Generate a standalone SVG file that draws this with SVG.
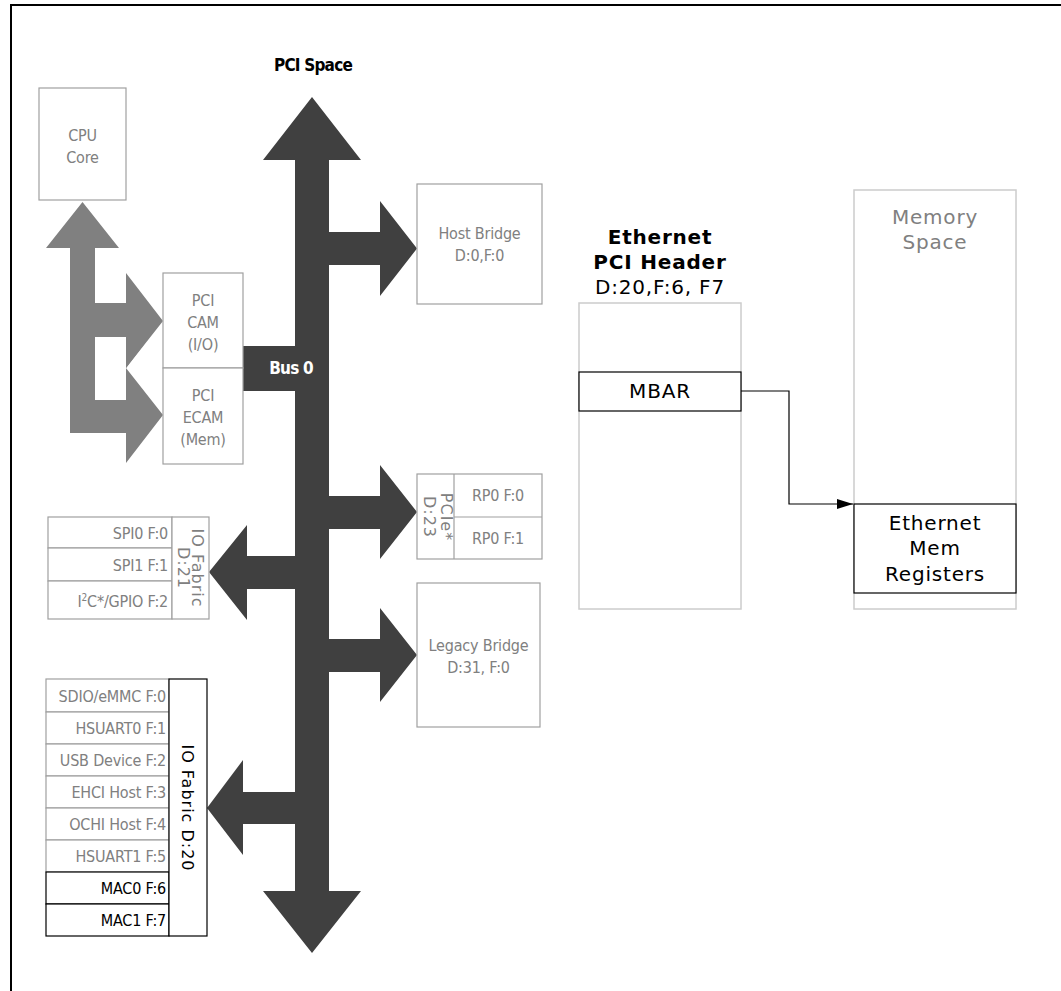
<svg xmlns="http://www.w3.org/2000/svg" width="1061" height="991" viewBox="0 0 1061 991">
<defs>
<style>
.g{font-family:"DejaVu Sans Condensed","DejaVu Sans",sans-serif;font-size:16px;fill:#808080;letter-spacing:-0.2px}
.k{font-family:"DejaVu Sans Condensed","DejaVu Sans",sans-serif;font-size:16px;fill:#000;letter-spacing:-0.2px}
.r{font-family:"DejaVu Sans",sans-serif;font-size:16px;letter-spacing:1px}
.gb{fill:#fff;stroke:#a0a0a0;stroke-width:1.2}
.kb{fill:#fff;stroke:#000;stroke-width:1.2}
.lb{fill:#fff;stroke:#cccccc;stroke-width:1.5}
.dark{fill:#404040}
.v{font-family:"DejaVu Sans",Verdana,sans-serif;font-size:20px;letter-spacing:0.8px}
.bt{font-family:"DejaVu Sans Condensed","DejaVu Sans",sans-serif;font-weight:bold;font-size:17px;letter-spacing:-0.8px}
</style>
<marker id="ah" markerWidth="16" markerHeight="10" refX="16" refY="5" orient="auto" markerUnits="userSpaceOnUse">
<path d="M0,0 L16,5 L0,10 Z" fill="#000"/>
</marker>
</defs>
<rect x="11" y="5" width="1060" height="1000" fill="none" stroke="#000" stroke-width="2"/>

<text class="bt" x="313" y="71" text-anchor="middle" fill="#000">PCI Space</text>

<g id="bus">
<polygon class="dark" points="312,97 361,160 329,160 329,891 361,891 312,953 263,891 295,891 295,160 263,160"/>
<polygon class="dark" points="329,232 380,232 380,201 417,248.5 380,296 380,265 329,265"/>
<polygon class="dark" points="329,496 380,496 380,465 417,512 380,559 380,529 329,529"/>
<polygon class="dark" points="329,639 380,639 380,608 417,655 380,702 380,672 329,672"/>
<polygon class="dark" points="295,556 247,556 247,525 209,572 247,620 247,589 295,589"/>
<polygon class="dark" points="295,792 243,792 243,760 207,808 243,855 243,824 295,824"/>
<rect class="dark" x="243" y="346" width="53" height="45"/>
<text class="bt" x="291" y="374" text-anchor="middle" fill="#fff">Bus 0</text>
</g>

<g id="cpu-arrow">
<polygon fill="#808080" points="82.5,202 119,248 95,248 95,303 126,303 126,273 163,321 126,368 163,415 126,463 126,433 70,433 70,248 46,248"/>
<rect x="95" y="337" width="31" height="63" fill="#fff"/>
<polygon fill="#808080" points="126,337 144,344 126,368"/>
</g>

<g id="cpu">
<rect class="gb" x="39" y="88" width="87" height="112"/>
<text class="g" x="82.5" y="141" text-anchor="middle">CPU</text>
<text class="g" x="82.5" y="163" text-anchor="middle">Core</text>
</g>

<g id="pcicam">
<rect class="gb" x="163" y="273" width="80" height="95"/>
<text class="g" x="203" y="306" text-anchor="middle">PCI</text>
<text class="g" x="203" y="328" text-anchor="middle">CAM</text>
<text class="g" x="203" y="350" text-anchor="middle">(I/O)</text>
</g>
<g id="pciecam">
<rect class="gb" x="163" y="368" width="80" height="96"/>
<text class="g" x="203" y="401" text-anchor="middle">PCI</text>
<text class="g" x="203" y="423" text-anchor="middle">ECAM</text>
<text class="g" x="203" y="445" text-anchor="middle">(Mem)</text>
</g>

<g id="hostbridge">
<rect class="gb" x="417" y="184" width="125" height="120"/>
<text class="g" x="479.5" y="239" text-anchor="middle">Host Bridge</text>
<text class="g" x="479.5" y="261" text-anchor="middle">D:0,F:0</text>
</g>

<g id="pcie">
<rect class="gb" x="417" y="474" width="125" height="85"/>
<line x1="454" y1="474" x2="454" y2="559" stroke="#a0a0a0" stroke-width="1.2"/>
<line x1="454" y1="517" x2="542" y2="517" stroke="#a0a0a0" stroke-width="1.2"/>
<text class="g" x="498" y="501" text-anchor="middle">RP0 F:0</text>
<text class="g" x="498" y="544" text-anchor="middle">RP0 F:1</text>
<g transform="translate(436,517) rotate(90)">
<text class="r" x="0" y="-5" text-anchor="middle" fill="#808080" letter-spacing="1.4">PCIe*</text>
<text class="r" x="0" y="12" text-anchor="middle" fill="#808080" letter-spacing="1.4">D:23</text>
</g>
</g>

<g id="legacy">
<rect class="gb" x="417" y="583" width="123" height="144"/>
<text class="g" x="478.5" y="651" text-anchor="middle">Legacy Bridge</text>
<text class="g" x="478.5" y="673" text-anchor="middle">D:31, F:0</text>
</g>

<g id="iofabric21">
<rect class="gb" x="48" y="517" width="124" height="31"/>
<rect class="gb" x="48" y="548" width="124" height="33"/>
<rect class="gb" x="48" y="581" width="124" height="38"/>
<rect class="gb" x="172" y="517" width="37" height="102"/>
<text class="g" x="168" y="539" text-anchor="end">SPI0 F:0</text>
<text class="g" x="168" y="571" text-anchor="end">SPI1 F:1</text>
<text class="g" x="168" y="607" text-anchor="end">I<tspan font-size="10" dy="-6">2</tspan><tspan dy="6">C*/GPIO F:2</tspan></text>
<g transform="translate(190,568) rotate(90)">
<text class="r" x="0" y="-2" text-anchor="middle" fill="#808080">IO Fabric</text>
<text class="r" x="0" y="12" text-anchor="middle" fill="#808080">D:21</text>
</g>
</g>

<g id="iofabric20">
<rect class="gb" x="46" y="679" width="123" height="33"/>
<rect class="gb" x="46" y="712" width="123" height="32"/>
<rect class="gb" x="46" y="744" width="123" height="32"/>
<rect class="gb" x="46" y="776" width="123" height="32"/>
<rect class="gb" x="46" y="808" width="123" height="32"/>
<rect class="gb" x="46" y="840" width="123" height="32"/>
<rect class="kb" x="46" y="872" width="123" height="32"/>
<rect class="kb" x="46" y="904" width="123" height="32"/>
<rect class="kb" x="169" y="679" width="38" height="257"/>
<text class="g" x="166" y="702" text-anchor="end">SDIO/eMMC F:0</text>
<text class="g" x="166" y="734" text-anchor="end">HSUART0 F:1</text>
<text class="g" x="166" y="766" text-anchor="end">USB Device F:2</text>
<text class="g" x="166" y="798" text-anchor="end">EHCI Host F:3</text>
<text class="g" x="166" y="830" text-anchor="end">OCHI Host F:4</text>
<text class="g" x="166" y="862" text-anchor="end">HSUART1 F:5</text>
<text class="k" x="166" y="894" text-anchor="end">MAC0 F:6</text>
<text class="k" x="166" y="926" text-anchor="end">MAC1 F:7</text>
<g transform="translate(188,808) rotate(90)">
<text class="r" x="0" y="6" text-anchor="middle" fill="#000" letter-spacing="0.7">IO Fabric D:20</text>
</g>
</g>

<g id="ethheader">
<text class="v" x="660" y="244" text-anchor="middle" font-weight="bold" letter-spacing="0.6">Ethernet</text>
<text class="v" x="660" y="269" text-anchor="middle" font-weight="bold" letter-spacing="0.6">PCI Header</text>
<text class="v" x="660" y="294" text-anchor="middle" letter-spacing="1.2">D:20,F:6, F7</text>
<rect class="lb" x="579" y="303" width="162" height="306"/>
</g>
<g id="mbar">
<rect class="kb" x="579" y="372" width="162" height="39"/>
<text class="v" x="660" y="398" text-anchor="middle" font-size="19">MBAR</text>
</g>

<g id="memspace">
<rect class="lb" x="854" y="190" width="162" height="419"/>
<text class="v" x="935" y="224" text-anchor="middle" fill="#808080">Memory</text>
<text class="v" x="935" y="249" text-anchor="middle" fill="#808080">Space</text>
</g>
<g id="ethmem">
<rect class="kb" x="854" y="504" width="162" height="89"/>
<text class="v" x="935" y="530" text-anchor="middle">Ethernet</text>
<text class="v" x="935" y="555" text-anchor="middle">Mem</text>
<text class="v" x="935" y="581" text-anchor="middle">Registers</text>
</g>

<g id="connectors">
<path d="M741,391 H789 V504 H853" fill="none" stroke="#000" stroke-width="1.2" marker-end="url(#ah)"/>
</g>
</svg>
